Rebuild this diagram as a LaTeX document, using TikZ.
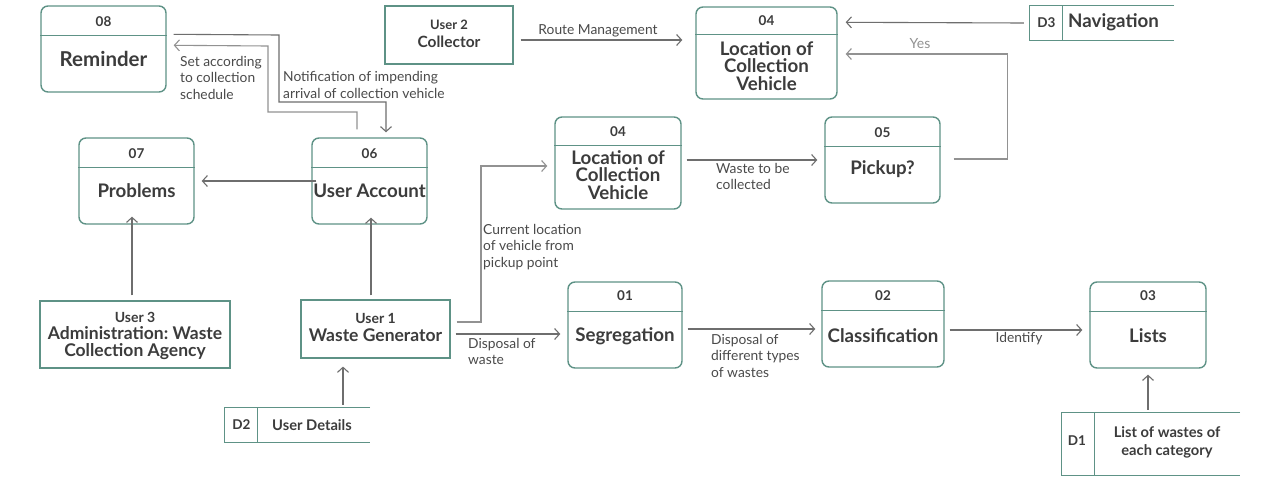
\documentclass[tikz,border=0pt]{standalone}
\usepackage{fontspec}
\setmainfont{Lato}
\usetikzlibrary{arrows.meta,calc}
\definecolor{teal}{HTML}{5E9286}
\definecolor{ink}{HTML}{3C3C3C}
\definecolor{flowc}{HTML}{6E6E6E}
\definecolor{flowl}{HTML}{929292}
\definecolor{lbl}{HTML}{4A4A4A}
\frenchspacing
\tikzset{
  proc/.style={draw=teal, line width=1.4pt, rounded corners=7pt, inner sep=0pt},
  ent/.style={draw=teal, line width=1.2pt, inner sep=0pt},
  divl/.style={draw=teal, line width=1.4pt},
  storel/.style={draw=teal, line width=1.3pt},
  num/.style={text=ink, font=\bfseries\fontsize{13.5}{15}\selectfont, inner sep=0pt},
  ptitle/.style={text=ink, font=\bfseries\fontsize{18.7}{17.5}\selectfont, align=center, inner sep=0pt},
  esmall/.style={text=ink, font=\bfseries\fontsize{14}{15}\selectfont, inner sep=0pt},
  etitle/.style={text=ink, font=\bfseries\fontsize{17.5}{17}\selectfont, align=center, inner sep=0pt},
  stitle/.style={text=ink, font=\bfseries\fontsize{14.7}{18}\selectfont, align=center, inner sep=0pt},
  sid/.style={text=ink, font=\bfseries\fontsize{13.5}{16}\selectfont, inner sep=0pt},
  flow/.style={draw=flowc, line width=1.1pt, -{Straight Barb[length=5pt,width=11pt]}},
  flowe/.style={flow, draw=flowl},
  flab/.style={text=lbl, font=\fontsize{13.8}{16.5}\selectfont, align=left, inner sep=0pt},
}
\begin{document}
\begin{tikzpicture}[x=1pt,y=-1pt]
\useasboundingbox[fill=white] (0,0) rectangle (1280,480);

% ---------- process boxes ----------
\node[proc, minimum width=125, minimum height=86] (p08) at (103.5,49) {};
\draw[divl] ($(p08.north west)+(0,30)$) -- ($(p08.north east)+(0,30)$);
\node[num] (p08n) at (103.5,22) {08};
\node[ptitle, font=\bfseries\fontsize{20.5}{20}\selectfont] (p08t) at (103.5,59) {Reminder};

\node[proc, minimum width=115, minimum height=86] (p07) at (136.5,181) {};
\draw[divl] ($(p07.north west)+(0,30)$) -- ($(p07.north east)+(0,30)$);
\node[num] (p07n) at (136.5,154) {07};
\node[ptitle] (p07t) at (136.5,191) {Problems};

\node[proc, minimum width=115, minimum height=86] (p06) at (369.5,181) {};
\draw[divl] ($(p06.north west)+(0,30)$) -- ($(p06.north east)+(0,30)$);
\node[num] (p06n) at (369.5,154) {06};
\node[ptitle] (p06t) at (369.5,191) {User Account};

\node[proc, minimum width=141, minimum height=92] (p04a) at (766.5,53) {};
\draw[divl] ($(p04a.north west)+(0,28)$) -- ($(p04a.north east)+(0,28)$);
\node[num] (p04an) at (766.5,21) {04};
\node[ptitle] (p04at) at (766.5,66) {Location of\\Collection\\Vehicle};

\node[proc, minimum width=126, minimum height=92] (p04b) at (618,163) {};
\draw[divl] ($(p04b.north west)+(0,29)$) -- ($(p04b.north east)+(0,29)$);
\node[num] (p04bn) at (618,132) {04};
\node[ptitle] (p04bt) at (618,175) {Location of\\Collection\\Vehicle};

\node[proc, minimum width=115, minimum height=86] (p05) at (882.5,160) {};
\draw[divl] ($(p05.north west)+(0,30)$) -- ($(p05.north east)+(0,30)$);
\node[num] (p05n) at (882.5,133) {05};
\node[ptitle] (p05t) at (882.5,169) {Pickup?};

\node[proc, minimum width=114, minimum height=86] (p01) at (625,325) {};
\draw[divl] ($(p01.north west)+(0,30)$) -- ($(p01.north east)+(0,30)$);
\node[num] (p01n) at (625,296) {01};
\node[ptitle] (p01t) at (625,336) {Segregation};

\node[proc, minimum width=122, minimum height=86] (p02) at (883,324) {};
\draw[divl] ($(p02.north west)+(0,30)$) -- ($(p02.north east)+(0,30)$);
\node[num] (p02n) at (883,296) {02};
\node[ptitle] (p02t) at (883,336) {Classification};

\node[proc, minimum width=116, minimum height=86] (p03) at (1148,325) {};
\draw[divl] ($(p03.north west)+(0,30)$) -- ($(p03.north east)+(0,30)$);
\node[num] (p03n) at (1148,296) {03};
\node[ptitle] (p03t) at (1148,336) {Lists};

% ---------- external entities ----------
\node[ent, minimum width=128, minimum height=58] (u2) at (449,35) {};
\node[esmall, font=\bfseries\fontsize{13}{15}\selectfont] (u2a) at (449,25) {User 2};
\node[etitle, font=\bfseries\fontsize{15.5}{17}\selectfont] (u2b) at (449,42) {Collector};

\node[ent, minimum width=190, minimum height=67] (u3) at (135,334.5) {};
\node[esmall] (u3a) at (135,317) {User 3};
\node[etitle] (u3b) at (135,343) {Administration: Waste\\Collection Agency};

\node[ent, minimum width=149, minimum height=58] (u1) at (375.5,329) {};
\node[esmall] (u1a) at (375.5,318) {User 1};
\node[etitle] (u1b) at (375.5,335) {Waste Generator};

% ---------- data stores ----------
\node[minimum width=144, minimum height=34, inner sep=0pt] (d3) at (1102,23) {};
\draw[storel] (d3.north east) -- (d3.north west) -- (d3.south west) -- (d3.south east);
\draw[storel] ($(d3.north west)+(33,0)$) -- ($(d3.south west)+(33,0)$);
\node[sid] (d3i) at (1046.5,23) {D3};
\node[ptitle, anchor=west] (d3t) at (1068,22) {Navigation};

\node[minimum width=145, minimum height=34, inner sep=0pt] (d2) at (297.5,425) {};
\draw[storel] (d2.north east) -- (d2.north west) -- (d2.south west) -- (d2.south east);
\draw[storel] ($(d2.north west)+(33,0)$) -- ($(d2.south west)+(33,0)$);
\node[sid] (d2i) at (241.5,425) {D2};
\node[stitle] (d2t) at (312,425) {User Details};

\node[minimum width=178, minimum height=62, inner sep=0pt] (d1) at (1151,444) {};
\draw[storel] (d1.north east) -- (d1.north west) -- (d1.south west) -- (d1.south east);
\draw[storel] ($(d1.north west)+(33,0)$) -- ($(d1.south west)+(33,0)$);
\node[sid] (d1i) at (1077,441) {D1};
\node[stitle] (d1t) at (1167,442) {List of wastes of\\each category};

% ---------- connectors ----------
\draw[flow] ($(u2.east)+(7,5)$) -- ($(p04a.west)+(-13,-13)$);
\node[flab] (lrm) at (598,31) {Route Management};

\draw[flow] ($(d3.west)+(-6,0)$) -- ($(p04a.north east)+(8,16)$);

\draw[flowe] ($(p05.east)+(13,-1)$) -| ($(p04a.east)+(170,1)$) -- ($(p04a.east)+(8,1)$);
\node[flab, text=flowl, font=\fontsize{14}{14}\selectfont] (lyes) at (920,44) {Yes};

\draw[flow] ($(p08.north east)+(7,29)$) -- (279,35) -- (279,102) -- (386,102) -- ($(p06.north)+(16.5,-5)$);
\draw[flowe] ($(p06.north)+(-12.5,-8)$) -- (357,112) -- (268,112) -- (268,46) -- ($(p08.north east)+(7,40)$);
\node[flab, anchor=west] (lset) at (180,77.5) {Set according\\to collection\\schedule};
\node[flab, anchor=west] (lnot) at (283,85) {Notification of impending\\arrival of collection vehicle};

\draw[flow] ($(p06.west)+(5,0)$) -- ($(p07.east)+(7,0)$);
\draw[flow] ($(u3.north)+(-3,-5)$) -- ($(p07.south)+(-4.5,-8)$);
\draw[flow] ($(u1.north)+(-4.5,-4)$) -- ($(p06.south)+(1.5,-7)$);
\draw[flow] ($(d2.north)+(45.5,-3)$) -- ($(u1.south)+(-32.5,8)$);

\draw[flowe] ($(u1.east)+(6,-7)$) -- (481,322) -- (481,166) -- ($(p04b.west)+(-7,3)$);
\node[flab, anchor=west] (lcur) at (483,247) {Current location\\of vehicle from\\pickup point};

\draw[flow] ($(u1.east)+(5,5)$) -- ($(p01.west)+(-7,9)$);
\node[flab, anchor=west] (ldis) at (468,351.5) {Disposal of\\waste};

\draw[flow] ($(p04b.east)+(5,-3)$) -- ($(p05.west)+(-7,0)$);
\node[flab, anchor=west] (lwas) at (716,176.5) {Waste to be\\collected};

\draw[flow] ($(p01.east)+(5,4)$) -- ($(p02.west)+(-6,5)$);
\node[flab, anchor=west] (ldif) at (711,355.5) {Disposal of\\different types\\of wastes};

\draw[flow] ($(p02.east)+(5,6)$) -- ($(p03.west)+(-7,5)$);
\node[flab] (lide) at (1019,339) {Identify};

\draw[flow] ($(d1.north)+(-3,-3)$) -- ($(p03.south)+(0,6)$);
\end{tikzpicture}
\end{document}
